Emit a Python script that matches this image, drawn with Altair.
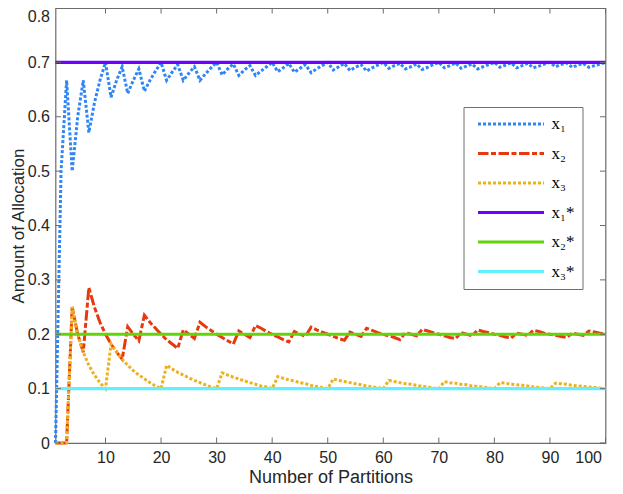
import altair as alt
import pandas as pd

partitions = list(range(1, 101))

x1 = [0, 0.5, 0.667, 0.5, 0.6, 0.667, 0.571, 0.625, 0.667, 0.7,
      0.636, 0.667, 0.692, 0.643, 0.667, 0.688, 0.647, 0.667, 0.684, 0.7,
      0.667, 0.682, 0.696, 0.667, 0.68, 0.692, 0.667, 0.679, 0.69, 0.7,
      0.677, 0.688, 0.697, 0.676, 0.686, 0.694, 0.676, 0.684, 0.692, 0.7,
      0.683, 0.69, 0.698, 0.682, 0.689, 0.696, 0.681, 0.688, 0.694, 0.7,
      0.686, 0.692, 0.698, 0.685, 0.691, 0.696, 0.684, 0.69, 0.695, 0.7,
      0.689, 0.694, 0.698, 0.688, 0.692, 0.697, 0.687, 0.691, 0.696, 0.7,
      0.69, 0.694, 0.699, 0.689, 0.693, 0.697, 0.688, 0.692, 0.696, 0.7,
      0.691, 0.695, 0.699, 0.69, 0.694, 0.698, 0.69, 0.693, 0.697, 0.7,
      0.692, 0.696, 0.699, 0.691, 0.695, 0.698, 0.691, 0.694, 0.697, 0.7]

x2 = [0, 0, 0, 0.25, 0.2, 0.167, 0.286, 0.25, 0.222, 0.2,
      0.182, 0.167, 0.154, 0.214, 0.2, 0.188, 0.235, 0.222, 0.211, 0.2,
      0.19, 0.182, 0.174, 0.208, 0.2, 0.192, 0.222, 0.214, 0.207, 0.2,
      0.194, 0.188, 0.182, 0.206, 0.2, 0.194, 0.216, 0.211, 0.205, 0.2,
      0.195, 0.19, 0.186, 0.205, 0.2, 0.196, 0.213, 0.208, 0.204, 0.2,
      0.196, 0.192, 0.189, 0.204, 0.2, 0.196, 0.211, 0.207, 0.203, 0.2,
      0.197, 0.194, 0.19, 0.203, 0.2, 0.197, 0.209, 0.206, 0.203, 0.2,
      0.197, 0.194, 0.192, 0.203, 0.2, 0.197, 0.208, 0.205, 0.203, 0.2,
      0.198, 0.195, 0.193, 0.202, 0.2, 0.198, 0.207, 0.205, 0.202, 0.2,
      0.198, 0.196, 0.194, 0.202, 0.2, 0.198, 0.206, 0.204, 0.202, 0.2]

x3 = [0, 0, 0, 0.25, 0.2, 0.167, 0.143, 0.125, 0.111, 0.1,
      0.182, 0.167, 0.154, 0.143, 0.133, 0.125, 0.118, 0.111, 0.105, 0.1,
      0.143, 0.136, 0.13, 0.125, 0.12, 0.115, 0.111, 0.107, 0.103, 0.1,
      0.129, 0.125, 0.121, 0.118, 0.114, 0.111, 0.108, 0.105, 0.103, 0.1,
      0.122, 0.119, 0.116, 0.114, 0.111, 0.109, 0.106, 0.104, 0.102, 0.1,
      0.118, 0.115, 0.113, 0.111, 0.109, 0.107, 0.105, 0.103, 0.102, 0.1,
      0.115, 0.113, 0.111, 0.109, 0.108, 0.106, 0.104, 0.103, 0.101, 0.1,
      0.113, 0.111, 0.11, 0.108, 0.107, 0.105, 0.104, 0.103, 0.101, 0.1,
      0.111, 0.11, 0.108, 0.107, 0.106, 0.105, 0.103, 0.102, 0.101, 0.1,
      0.11, 0.109, 0.108, 0.106, 0.105, 0.104, 0.103, 0.102, 0.101, 0.1]

series_labels = ["x\u2081", "x\u2082", "x\u2083"]
optimum_labels = ["x\u2081*", "x\u2082*", "x\u2083*"]
optimum_values = [0.7, 0.2, 0.1]

x_ticks = [10, 20, 30, 40, 50, 60, 70, 80, 90, 100]
y_ticks = [0, 0.1, 0.2, 0.3, 0.4, 0.5, 0.6, 0.7, 0.8]

colors = ["#2f86f6", "#e8380d", "#edb120", "#6e00ff", "#62d40a", "#60f0ff"]
dashes = [[3, 2], [10.5, 2.5, 5, 2.5], [3, 2], [1, 0], [1, 0], [1, 0]]

rows = []
for lab, vals in zip(series_labels, [x1, x2, x3]):
    for n, v in zip(partitions, vals):
        rows.append({"n": n, "value": v, "series": lab})
df = pd.DataFrame(rows)

ref_rows = []
for lab, v in zip(optimum_labels, optimum_values):
    for n in (partitions[0], partitions[-1]):
        ref_rows.append({"n": n, "value": v, "series": lab})
ref = pd.DataFrame(ref_rows)

domain = series_labels + optimum_labels
W, H = 550, 435
TICK = 5.5
AX = "#6b6b6b"

legend = alt.Legend(
    title=None, orient="none", legendX=408, legendY=99,
    symbolType="stroke", symbolSize=4356, symbolStrokeWidth=3,
    clipHeight=18, rowPadding=11.5, padding=8, symbolOffset=5,
    labelOffset=6, labelFont="Liberation Serif", labelFontSize=17,
    labelColor="black", strokeColor="#707070", fillColor="white",
    labelLimit=0,
)

xenc = alt.X("n:Q", scale=alt.Scale(domain=[1, 100], nice=False, zero=False),
             axis=alt.Axis(values=x_ticks, title="Number of Partitions", grid=False,
                           ticks=False, domain=False, labelPadding=6, titlePadding=3,
                           labelOffset={"condition": {"test": "datum.value >= 100", "value": -4}, "value": 0},
                           labelFont="Liberation Sans", labelFontSize=16, labelColor="#262626",
                           titleFont="Liberation Sans", titleFontSize=18, titleColor="#262626",
                           titleFontWeight="normal"))
yenc = alt.Y("value:Q", scale=alt.Scale(domain=[0, 0.8], nice=False),
             axis=alt.Axis(values=y_ticks, title="Amount of Allocation", grid=False,
                           ticks=False, domain=False, labelPadding=6, titlePadding=0,
                           labelOffset={"condition": {"test": "datum.value >= 0.79", "value": 8}, "value": 0},
                           labelFont="Liberation Sans", labelFontSize=16, labelColor="#262626",
                           titleFont="Liberation Sans", titleFontSize=17, titleColor="#262626",
                           titleFontWeight="normal",
                           labelExpr="datum.value == 0 ? '0' : format(datum.value, '.1f')"))
color = alt.Color("series:N", scale=alt.Scale(domain=domain, range=colors), legend=legend)
dash = alt.StrokeDash("series:N", scale=alt.Scale(domain=domain, range=dashes), legend=legend)

lines = alt.Chart(df).mark_line(strokeWidth=3, strokeCap="butt").encode(
    x=xenc, y=yenc, color=color, strokeDash=dash, detail="series:N")
refs = alt.Chart(ref).mark_line(strokeWidth=3.2, strokeCap="butt").encode(
    x=xenc, y=yenc, color=color, strokeDash=dash, detail="series:N")

xt = pd.DataFrame({"n": x_ticks})
yt = pd.DataFrame({"value": y_ticks})
tick_bottom = alt.Chart(xt).mark_rule(color=AX, strokeWidth=1).encode(
    x=xenc, y=alt.value(H), y2=alt.value(H - TICK))
tick_top = alt.Chart(xt).mark_rule(color=AX, strokeWidth=1).encode(
    x=xenc, y=alt.value(0), y2=alt.value(TICK))
tick_left = alt.Chart(yt).mark_rule(color=AX, strokeWidth=1).encode(
    y=yenc, x=alt.value(0), x2=alt.value(TICK))
tick_right = alt.Chart(yt).mark_rule(color=AX, strokeWidth=1).encode(
    y=yenc, x=alt.value(W), x2=alt.value(W - TICK))

chart = alt.layer(lines, refs, tick_bottom, tick_top, tick_left, tick_right).properties(
    width=W, height=H,
    background="white",
    autosize=alt.AutoSizeParams(type="none"),
    padding={"left": 47.5, "top": 0, "right": 9, "bottom": 43},
).configure_view(
    stroke=AX, strokeWidth=1.2
)

chart.save("out.html", embed_options={"renderer": "svg", "actions": False})
